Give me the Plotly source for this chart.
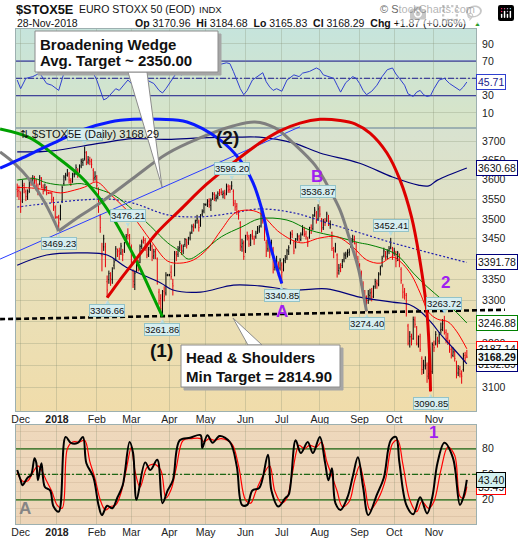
import base64
import numpy as np
import pandas as pd
import plotly.graph_objects as go

W, H = 520, 540
FONT = "Liberation Sans, Arial, sans-serif"

# ---- daily bars, 29-Nov-2017 .. 28-Nov-2018 (one per weekday) ----
dates = pd.bdate_range("2017-11-29", "2018-11-28")

bar_open = [
    3575, 3572, 3565, 3545, 3585, 3570, 3555, 3570, 3598, 3590,
    3606, 3598, 3578, 3590, 3603, 3580, 3575, 3580, 3566, 3566,
    3565, 3550, 3530, 3504, 3505, 3500, 3545, 3590, 3606, 3612,
    3615, 3598, 3596, 3615, 3618, 3625, 3625, 3636, 3645, 3655,
    3670, 3646, 3650, 3650, 3625, 3605, 3605, 3575, 3505, 3410,
    3430, 3430, 3345, 3350, 3360, 3350, 3385, 3398, 3418, 3420,
    3415, 3418, 3420, 3445, 3460, 3455, 3430, 3370, 3338, 3372,
    3385, 3392, 3432, 3448, 3446, 3428, 3412, 3428, 3432, 3408,
    3418, 3400, 3320, 3305, 3275, 3322, 3318, 3361, 3361, 3368,
    3340, 3360, 3412, 3412, 3428, 3432, 3420, 3436, 3444, 3440,
    3452, 3466, 3478, 3482, 3496, 3492, 3484, 3512, 3520, 3536,
    3540, 3545, 3534, 3552, 3562, 3552, 3556, 3566, 3568, 3562,
    3566, 3565, 3582, 3575, 3578, 3570, 3538, 3532, 3515, 3490,
    3430, 3440, 3420, 3458, 3452, 3440, 3462, 3450, 3455, 3468,
    3472, 3482, 3505, 3480, 3440, 3425, 3438, 3418, 3425, 3380,
    3392, 3388, 3378, 3385, 3375, 3396, 3405, 3418, 3440, 3462,
    3440, 3430, 3450, 3455, 3448, 3462, 3474, 3462, 3450, 3455,
    3478, 3475, 3510, 3515, 3500, 3520, 3498, 3478, 3492, 3496,
    3505, 3485, 3465, 3420, 3422, 3410, 3372, 3380, 3384, 3398,
    3408, 3414, 3416, 3430, 3446, 3448, 3438, 3400, 3385, 3368,
    3340, 3315, 3305, 3300, 3312, 3320, 3310, 3334, 3342, 3338,
    3365, 3384, 3408, 3414, 3406, 3420, 3428, 3425, 3414, 3415,
    3400, 3410, 3375, 3335, 3322, 3312, 3240, 3205, 3215, 3210,
    3254, 3235, 3198, 3215, 3165, 3145, 3148, 3150, 3130, 3160,
    3135, 3195, 3200, 3210, 3205, 3230, 3236, 3250, 3225, 3212,
    3200, 3186, 3172, 3180, 3155, 3132, 3140, 3128, 3140, 3172,
    3170.96,
]
bar_high = [
    3590, 3585, 3570, 3600, 3592, 3575, 3575, 3602, 3606, 3612,
    3610, 3602, 3590, 3612, 3607, 3588, 3590, 3584, 3569, 3569,
    3568, 3556, 3534, 3507, 3510, 3536, 3585, 3612, 3618, 3628,
    3620, 3604, 3618, 3624, 3640, 3630, 3640, 3655, 3656, 3687.22,
    3675, 3662, 3660, 3655, 3630, 3622, 3612, 3580, 3512, 3440,
    3460, 3440, 3360, 3372, 3368, 3380, 3400, 3432, 3426, 3428,
    3440, 3425, 3442, 3462, 3476.21, 3462, 3436, 3375, 3372, 3400,
    3398, 3436, 3448, 3456, 3452, 3436, 3430, 3446, 3436, 3425,
    3426, 3404, 3328, 3315, 3325, 3334, 3368, 3364, 3364, 3385,
    3352, 3420, 3420, 3432, 3445, 3436, 3436, 3452, 3450, 3455,
    3468, 3486, 3488, 3498, 3510, 3498, 3512, 3524, 3540, 3539,
    3550, 3552, 3552, 3568, 3568, 3562, 3570, 3576, 3578, 3572,
    3574, 3590, 3588, 3586, 3596.20, 3575, 3548, 3540, 3522, 3494,
    3450, 3446, 3460, 3468, 3460, 3462, 3472, 3458, 3470, 3482,
    3484, 3530, 3518, 3486, 3448, 3448, 3442, 3448, 3430, 3398,
    3408, 3394, 3402, 3392, 3402, 3410, 3425, 3434, 3468, 3472,
    3446, 3452, 3464, 3460, 3466, 3484, 3480, 3470, 3455, 3480,
    3486, 3512, 3530, 3520, 3536.87, 3532, 3502, 3500, 3502, 3518,
    3510, 3496, 3468, 3430, 3440, 3414, 3388, 3390, 3400, 3416,
    3418, 3424, 3426, 3452, 3460, 3458, 3442, 3408, 3390, 3372,
    3346, 3325, 3312, 3325, 3328, 3330, 3336, 3352, 3350, 3368,
    3384, 3408, 3428, 3420, 3424, 3432, 3452.41, 3430, 3428, 3420,
    3420, 3414, 3380, 3340, 3330, 3318, 3245, 3228, 3222, 3262,
    3262, 3240, 3218, 3222, 3170, 3162, 3170, 3156, 3172, 3165,
    3202, 3206, 3228, 3215, 3226, 3248, 3256, 3263.72, 3232, 3224,
    3208, 3192, 3190, 3184, 3160, 3150, 3148, 3138, 3178, 3180,
    3184.68,
]
bar_low = [
    3555, 3548, 3515, 3540, 3565, 3545, 3548, 3566, 3584, 3588,
    3588, 3572, 3560, 3586, 3578, 3562, 3570, 3560, 3563, 3563,
    3540, 3520, 3500, 3501, 3469.23, 3496, 3540, 3585, 3598, 3608,
    3590, 3584, 3592, 3606, 3612, 3605, 3618, 3630, 3636, 3650,
    3638, 3640, 3638, 3630, 3595, 3598, 3575, 3515, 3465, 3370,
    3420, 3380, 3306.66, 3340, 3335, 3340, 3375, 3395, 3405, 3398,
    3410, 3395, 3415, 3440, 3448, 3432, 3388, 3330, 3325, 3368,
    3370, 3390, 3425, 3438, 3420, 3402, 3405, 3420, 3395, 3400,
    3400, 3338, 3290, 3272, 3261.86, 3298, 3312, 3358, 3358, 3350,
    3312, 3358, 3395, 3405, 3420, 3410, 3412, 3430, 3426, 3435,
    3446, 3462, 3468, 3476, 3488, 3468, 3480, 3506, 3514, 3533,
    3530, 3528, 3520, 3548, 3545, 3544, 3550, 3558, 3560, 3552,
    3550, 3560, 3566, 3566, 3574, 3532, 3520, 3510, 3498, 3420,
    3418, 3398, 3415, 3446, 3430, 3432, 3448, 3435, 3450, 3462,
    3465, 3478, 3488, 3445, 3405, 3418, 3402, 3412, 3365, 3372,
    3378, 3358, 3372, 3340.85, 3370, 3390, 3398, 3410, 3436, 3452,
    3412, 3426, 3445, 3442, 3444, 3458, 3455, 3448, 3430, 3450,
    3462, 3472, 3505, 3488, 3495, 3504, 3466, 3472, 3482, 3492,
    3482, 3475, 3420, 3402, 3416, 3355, 3362, 3368, 3378, 3392,
    3400, 3404, 3408, 3428, 3440, 3436, 3398, 3384, 3365, 3335,
    3305, 3298, 3274.40, 3292, 3300, 3298, 3306, 3328, 3328, 3334,
    3360, 3380, 3404, 3398, 3400, 3412, 3424, 3398, 3408, 3380,
    3395, 3380, 3340, 3305, 3302, 3262, 3195, 3190, 3195, 3208,
    3236, 3195, 3190, 3180, 3128, 3130, 3140, 3110, 3118, 3090.85,
    3130, 3180, 3195, 3190, 3198, 3222, 3228, 3220, 3200, 3196,
    3178, 3165, 3168, 3158, 3120, 3125, 3122, 3108, 3135, 3158,
    3165.83,
]
bar_close = [
    3570, 3569, 3530, 3586, 3576, 3557, 3565, 3597, 3592, 3604,
    3595, 3580, 3573, 3605, 3584, 3570, 3580, 3566, 3566, 3566,
    3548, 3527, 3504, 3504, 3490, 3530, 3580, 3607, 3612, 3622,
    3599, 3594, 3613, 3615, 3632, 3620, 3634, 3648, 3650, 3672,
    3645, 3652, 3647, 3640, 3603, 3609, 3585, 3523, 3478, 3408,
    3450, 3385, 3325, 3365, 3352, 3370, 3393, 3425, 3418, 3412,
    3432, 3410, 3438, 3456, 3458, 3439, 3395, 3346, 3365, 3394,
    3384, 3431, 3442, 3445, 3426, 3410, 3424, 3440, 3405, 3418,
    3410, 3345, 3300, 3280, 3318, 3310, 3361, 3361, 3361, 3357,
    3335, 3415, 3408, 3425, 3438, 3418, 3431, 3448, 3434, 3450,
    3463, 3480, 3478, 3494, 3500, 3478, 3509, 3518, 3536, 3536,
    3543, 3536, 3547, 3563, 3553, 3554, 3564, 3565, 3567, 3565,
    3561, 3584, 3573, 3573, 3584, 3542, 3530, 3517, 3508, 3434,
    3439, 3406, 3453, 3456, 3437, 3457, 3456, 3448, 3464, 3476,
    3478, 3510, 3495, 3455, 3420, 3440, 3410, 3440, 3375, 3390,
    3395, 3370, 3396, 3368, 3395, 3402, 3420, 3428, 3462, 3460,
    3420, 3448, 3457, 3450, 3460, 3478, 3461, 3455, 3440, 3475,
    3470, 3508, 3522, 3495, 3525, 3512, 3475, 3494, 3490, 3512,
    3489, 3486, 3426, 3418, 3434, 3366, 3378, 3379, 3394, 3410,
    3412, 3414, 3419, 3444, 3448, 3447, 3403, 3393, 3374, 3345,
    3318, 3310, 3295, 3315, 3318, 3308, 3330, 3345, 3340, 3362,
    3378, 3402, 3420, 3405, 3418, 3425, 3440, 3408, 3420, 3395,
    3415, 3388, 3348, 3320, 3315, 3268, 3200, 3215, 3205, 3255,
    3244, 3200, 3210, 3186, 3140, 3150, 3160, 3125, 3165, 3120,
    3197, 3190, 3220, 3200, 3220, 3232, 3245, 3228, 3210, 3205,
    3185, 3175, 3180, 3165, 3135, 3142, 3130, 3125, 3170, 3166.42,
    3168.29,
]

# ---- overlays (bar index, value) ----
ma20_x = [0, 10, 17, 25, 33, 39, 46, 54, 67, 77, 87, 94, 102, 110, 118, 126, 133,
          140, 152, 164, 175, 185, 194, 202, 210, 217, 222, 228, 233, 238, 243, 249, 254, 260]
ma20 = [3580, 3578, 3573, 3566, 3573, 3581, 3594, 3562, 3505, 3447, 3395, 3390, 3398,
        3425, 3472, 3515, 3522, 3515, 3465, 3440, 3452, 3455, 3430, 3398, 3390, 3405,
        3392, 3361, 3318, 3272, 3256, 3250, 3228, 3187.14]
ma50_x = [0, 10, 17, 27, 37, 44, 56, 67, 77, 87, 93, 99, 107, 118, 130, 140, 156, 169,
          185, 198, 204, 219, 229, 237, 246, 254, 260]
ma50 = [3599, 3603, 3592, 3586, 3590, 3580, 3560, 3522, 3482, 3440, 3422, 3400, 3418,
        3455, 3480, 3500, 3497, 3472, 3455, 3440, 3435, 3412, 3366, 3333, 3301, 3272, 3246.88]
ma200_x = [0, 19, 38, 54, 67, 87, 106, 125, 140, 160, 179, 198, 217, 237, 260]
ma200 = [3530, 3540, 3548, 3550, 3540, 3510, 3505, 3515, 3525, 3515, 3490, 3465, 3440,
         3417, 3391.78]
bbu_x = [0, 19, 48, 67, 87, 106, 126, 140, 160, 175, 198, 217, 232, 238, 243, 260]
bb_upper = [3673, 3675, 3696, 3708, 3706, 3710, 3712, 3712, 3696, 3670, 3643, 3607,
            3586, 3584, 3599, 3630.68]
bbl_x = [0, 17, 37, 52, 63, 83, 90, 106, 125, 140, 160, 179, 198, 217, 227, 232, 239,
         246, 252, 260]
bb_lower = [3385, 3410, 3415, 3410, 3380, 3342, 3325, 3320, 3337, 3335, 3325, 3328,
            3308, 3296, 3290, 3278, 3250, 3215, 3189, 3152.89]

rsi_x = [0, 2, 5, 9, 13, 17, 20, 24, 27, 31, 35, 38, 41, 44, 46, 48, 50, 52, 54, 57,
         59, 62, 64, 67, 70, 73, 76, 79, 82, 84, 86, 88, 92, 95, 98, 104, 110, 114, 117,
         121, 123, 125, 127, 129, 131, 133, 136, 139, 142, 144, 146, 148, 150, 153, 156,
         160, 163, 165, 169, 173, 175, 177, 180, 183, 185, 187, 190, 194, 196, 198, 200,
         202, 205, 208, 211, 214, 217, 219, 221, 224, 226, 229, 231, 233, 235, 237, 239,
         241, 244, 247, 250, 253, 256, 258, 260]
rsi = [48, 38, 50, 52, 56, 44, 42, 36, 56, 62, 65, 67, 64, 56, 48, 36, 25, 27, 31, 38,
       36, 44, 48, 42, 48, 50, 47, 44, 36, 33, 38, 44, 56, 54, 58, 62, 63, 62, 66,
       68, 67, 58, 48, 38, 31, 36, 48, 52, 56.5, 46, 40, 36, 38, 35, 48,
       54, 52, 56, 58, 62, 60, 54, 52, 50, 42, 34, 45, 52, 50, 44, 36,
       31, 35, 42, 52, 60, 62, 55, 50, 42, 32, 29, 34, 36, 31, 29, 30,
       38, 48, 50, 44, 40, 36, 40, 45.71]

stk_x = [0, 2, 3, 6, 8, 10, 11, 12, 14, 16, 19, 21, 24, 28, 31, 35, 38, 40, 44, 47,
         49, 52, 55, 58, 61, 65, 67, 69, 74, 77, 81, 84, 87, 90, 94, 100, 106, 107, 110,
         113, 117, 123, 127, 130, 133, 136, 140, 145, 147, 151, 155, 157, 161, 164, 168,
         171, 175, 178, 180, 182, 184, 187, 191, 194, 197, 200, 203, 208, 212, 216, 219,
         221, 225, 229, 233, 237, 240, 243, 247, 252, 256, 258, 260]
stoch_k = [55, 43, 37, 46, 49, 69, 64, 43, 63, 35, 31, 12, 6, 94, 87, 87, 94, 63, 47, 14,
           2, 13, 10, 23, 37, 88, 75, 20, 64, 55, 67, 16, 31, 43, 90, 93, 96, 81, 96,
           87, 95, 88, 59, 14, 14, 31, 34, 73, 31, 12, 22, 26, 90, 75, 88,
           75, 94, 64, 43, 57, 16, 8, 23, 47, 70, 35, 2, 26, 46, 90, 94,
           64, 14, 3, 23, 4, 23, 63, 87, 69, 14, 23, 43.40]
std_x = [0, 3, 6, 9, 12, 14, 17, 20, 23, 26, 29, 32, 36, 39, 42, 45, 48, 51, 54, 57,
         60, 63, 66, 68, 71, 75, 79, 83, 86, 89, 92, 96, 101, 106, 108, 111, 114, 118,
         124, 128, 132, 135, 138, 142, 146, 149, 153, 156, 159, 163, 166, 169, 173, 176,
         179, 182, 185, 188, 192, 195, 198, 201, 204, 209, 213, 217, 220, 223, 227, 231,
         234, 238, 241, 245, 249, 253, 256, 258, 260]
stoch_d = [52, 42, 42, 52, 60, 55, 42, 30, 14, 10, 80, 88, 88, 90, 65, 45, 20, 8, 12, 14,
           28, 55, 82, 55, 35, 58, 62, 55, 22, 32, 58, 90, 92, 92, 88, 92, 90, 92,
           86, 60, 20, 16, 30, 48, 60, 30, 16, 22, 50, 84, 80, 84, 82, 88,
           65, 48, 30, 12, 18, 42, 60, 36, 8, 22, 44, 86, 90, 62, 20, 6,
           18, 10, 18, 55, 82, 72, 24, 22, 35.49]

# labelled swing points (bar index, H = high / L = low)
swing_bars = [24, 39, 52, 64, 84, 124, 153, 174, 202, 216, 239, 247]
swing_kind = ["L", "H", "L", "H", "L", "H", "L", "H", "L", "H", "L", "H"]

# hand-drawn arcs and lines (bar index, price)
arc_blue_x = [-9.9, 1.6, 19, 38, 53.7, 67, 82.6, 98.2, 117.3, 128.8, 136.4, 141.6, 146.2, 153]
arc_blue_y = [3630, 3654, 3692, 3732, 3753, 3760, 3760, 3753, 3705, 3652, 3592, 3522, 3435, 3340.85]
arc_green_x = [-9.9, 7.4, 23, 36.3, 46.1, 55.4, 63.5, 71, 77.9, 84]
arc_green_y = [3734, 3710, 3659, 3610, 3561, 3502, 3440, 3378, 3316, 3261.86]
arc_gray1_x = [-9.9, -1.9, 7.4, 16.1, 24]
arc_gray1_y = [3673, 3644, 3599, 3540, 3469.23]
arc_gray2_x = [24, 36.3, 47.9, 67, 86.6, 105.7, 124.8, 137.5, 149.1, 160.6, 172.2, 180.9,
               186.7, 192.4, 197.5, 200, 202]
arc_gray2_y = [3469.23, 3507, 3540, 3604, 3668, 3710, 3742, 3753, 3737, 3692, 3638, 3573,
               3522, 3447, 3373, 3318, 3274.4]
arc_red_x = [52, 59.4, 67, 80.8, 94.1, 109.7, 124.8, 140.4, 152, 163.5, 175.1, 186.7, 195.3,
             204, 213.8, 221.4, 228, 233, 236.8, 238.3, 239]
arc_red_y = [3306.66, 3349, 3390, 3465, 3522, 3589, 3644, 3697, 3729, 3750, 3760, 3757, 3748,
             3723, 3670, 3599, 3505, 3393, 3278, 3184, 3090.85]
wedge_x = [-9.9, 163.5]
wedge_y = [3400, 3740]
neck_x = [-9.9, 282]
neck_y = [3256, 3278]

price_ticks = list(range(3100, 3701, 50))


# ---- geometry (pixels of the 520x540 picture -> paper) ----
def fx(x):
    return x / W


def fy(y):
    return 1 - y / H


XD = [fx(16), fx(476)]
RSI_D = [fy(128), fy(29)]
MAIN_D = [fy(411), fy(128)]
STO_D = [fy(524), fy(425)]
XR = [-0.7, 265.3]
LOG_LO, LOG_HI = np.log10(3047.5), np.log10(3736.7)
bpp = (XR[1] - XR[0]) / 460.0
lpp = (LOG_HI - LOG_LO) / (411 - 128)
X4R = [XR[0] - 16 * bpp, XR[1] + 44 * bpp]
Y4R = [LOG_LO - (H - 411) * lpp, LOG_HI + 128 * lpp]

idx = list(range(len(dates)))
month_pos, month_txt = [], []
prev = None
for i, d in enumerate(dates):
    if d.month != prev:
        if i > 0:
            month_pos.append(i)
            month_txt.append("<b>2018</b>" if d.month == 1 else d.strftime("%b"))
        prev = d.month


def grad_uri(stops):
    st = "".join(f'<stop offset="{o}" stop-color="{c}"/>' for o, c in stops)
    svg = ('<svg xmlns="http://www.w3.org/2000/svg" width="4" height="100" '
           'viewBox="0 0 4 100" preserveAspectRatio="none"><defs>'
           f'<linearGradient id="g" x1="0" y1="0" x2="0" y2="1">{st}</linearGradient>'
           '</defs><rect width="4" height="100" fill="url(#g)"/></svg>')
    return "data:image/svg+xml;base64," + base64.b64encode(svg.encode()).decode()


def bg_image(dom, stops):
    return dict(source=grad_uri(stops), xref="paper", yref="paper", x=XD[0], y=dom[1],
                sizex=XD[1] - XD[0], sizey=dom[1] - dom[0], xanchor="left",
                yanchor="top", sizing="stretch", layer="below")


fig = go.Figure()

# main panel
def line(x, y, color, width=1.0, dash=None, xa="x", ya="y", shape="spline"):
    fig.add_trace(go.Scatter(x=x, y=y, mode="lines", xaxis=xa, yaxis=ya,
                             line=dict(color=color, width=width, dash=dash, shape=shape),
                             hoverinfo="skip"))


line(bbu_x, bb_upper, "#00007A", 1.2)
line(bbl_x, bb_lower, "#00007A", 1.2)
line(ma200_x, ma200, "#2020B0", 1.2, dash="2px,2px")
line(ma50_x, ma50, "#008000", 1.0)
line(ma20_x, ma20, "#FF0000", 1.0)

fig.add_trace(go.Ohlc(x=idx, open=bar_open, high=bar_high, low=bar_low, close=bar_close,
                      xaxis="x", yaxis="y", tickwidth=0.35, hoverinfo="skip",
                      increasing=dict(line=dict(color="#000000", width=1)),
                      decreasing=dict(line=dict(color="#E8000B", width=1))))

# RSI and stochastics
line(rsi_x, rsi, "#3040D0", 1.0, xa="x2", ya="y2", shape="linear")
line(std_x, stoch_d, "#FF0000", 1.2, xa="x3", ya="y3", shape="spline")
line(stk_x, stoch_k, "#000000", 2.0, xa="x3", ya="y3", shape="spline")

# drawn lines on a full-canvas copy of the price scale
line(wedge_x, wedge_y, "#2A3CFF", 1.0, xa="x4", ya="y4", shape="linear")
line(neck_x, neck_y, "#000000", 2.6, dash="5px,3px", xa="x4", ya="y4", shape="linear")
line(arc_gray1_x, arc_gray1_y, "#7F7F7F", 3, xa="x4", ya="y4")
line(arc_gray2_x, arc_gray2_y, "#7F7F7F", 3, xa="x4", ya="y4")
line(arc_green_x, arc_green_y, "#00A000", 3, xa="x4", ya="y4")
line(arc_blue_x, arc_blue_y, "#0A1AFF", 3, xa="x4", ya="y4")
line(arc_red_x, arc_red_y, "#DD0000", 3, xa="x4", ya="y4")

shapes = []
for lv, dash in [(70, None), (30, None), (50, "6px,2px,2px,2px")]:
    shapes.append(dict(type="line", xref="x2 domain", yref="y2", x0=0, x1=1, y0=lv, y1=lv,
                       line=dict(color="#2A2AA8", width=1.2, dash=dash), layer="below"))
for lv, dash in [(80, None), (20, None), (50, "6px,2px,2px,2px")]:
    shapes.append(dict(type="line", xref="x3 domain", yref="y3", x0=0, x1=1, y0=lv, y1=lv,
                       line=dict(color="#0A640A", width=1.3, dash=dash), layer="below"))


def rect(x0, y0, x1, y1, fill, color, width=1):
    return dict(type="rect", xref="paper", yref="paper", x0=fx(x0), x1=fx(x1),
                y0=fy(y1), y1=fy(y0), fillcolor=fill, line=dict(color=color, width=width),
                layer="above")


def tri(pts):
    path = "M " + " L ".join(f"{fx(x):.5f},{fy(y):.5f}" for x, y in pts) + " Z"
    return dict(type="path", xref="paper", yref="paper", path=path, fillcolor="white",
                line=dict(color="#8C8C8C", width=1), layer="above")


shapes += [
    rect(38, 34, 221, 75, "#A6A6A6", "#A6A6A6"),
    tri([(128, 72), (162, 187), (147, 72)]),
    rect(35, 31, 218, 72, "white", "#8C8C8C"),
    rect(184, 348, 343, 390, "#A6A6A6", "#A6A6A6"),
    tri([(248, 345), (233, 318), (262, 345)]),
    rect(181, 345, 340, 387, "white", "#8C8C8C"),
]

ann = []


def note(text, x, y, size=10.5, color="#111111", xanchor="left", bold=False):
    ann.append(dict(text=f"<b>{text}</b>" if bold else text, x=fx(x), y=fy(y),
                    xref="paper", yref="paper", showarrow=False, xanchor=xanchor,
                    yanchor="middle", font=dict(family=FONT, size=size, color=color)))


# header
note("$STOX5E", 14, 9, size=12.8, bold=True)
note("EURO STOXX 50 (EOD)", 77, 9, size=10.5)
note("INDX", 197, 9, size=9.5)
note("© StockCharts.com", 477, 9, size=11, color="#6A6A6A", xanchor="right")
note("28-Nov-2018", 15, 23, size=10.5)
note("<b>Op</b> 3170.96  <b>Hi</b> 3184.68  <b>Lo</b> 3165.83  <b>Cl</b> 3168.29  "
     "<b>Chg</b> +1.87 (+0.06%)", 468, 23, size=10.5, xanchor="right")
note("▲", 472, 23, size=7, color="#2E9E2E")

# swing-point price labels
for i, kind in zip(swing_bars, swing_kind):
    v = bar_low[i] if kind == "L" else bar_high[i]
    hidden = i == 39
    sgn = -1 if kind == "L" else 1
    ann.append(dict(text="▲" if kind == "L" else "▼", x=i, y=np.log10(v), xref="x",
                    yref="y", showarrow=False, yanchor="middle", yshift=sgn * 4,
                    font=dict(family=FONT, size=7, color="#B8DDE1")))
    ann.append(dict(text=f"{v:.2f}", x=i, y=np.log10(v), xref="x", yref="y",
                    showarrow=False, yanchor="top" if kind == "L" else "bottom",
                    yshift=sgn * 6, bgcolor="#D6EEF0", bordercolor="#93C3C8",
                    borderwidth=1, borderpad=0,
                    font=dict(family=FONT, size=9.5,
                              color="#D6EEF0" if hidden else "#111111")))

note("⇅ $STOX5E (Daily) 3168.29", 18, 134, size=11)

# callout texts and wave marks
note("Broadening Wedge", 38, 44, size=15, bold=True)
note("Avg. Target ~ 2350.00", 38, 61, size=15, bold=True)
note("Head & Shoulders", 184, 357, size=15, bold=True)
note("Min Target = 2814.90", 184, 376, size=15, bold=True)
note("(2)", 227.5, 137.5, size=19, xanchor="center", bold=True)
note("(1)", 161.5, 350, size=19, xanchor="center", bold=True)
for t, x, y in [("B", 316.5, 176), ("A", 281.5, 311), ("2", 445, 282), ("1", 433.5, 432)]:
    note(t, x, y, size=17, color="#A020F0", xanchor="center", bold=True)
note("A", 25, 508, size=17, color="#858585", xanchor="center", bold=True)


# last-value flags on the right axis
def flag(v, yref, yval, border, color="#111111", bold=False, bg="white"):
    txt = f"{v:.2f}"
    ann.append(dict(text=f"<b>{txt}</b>" if bold else txt, x=fx(476), xref="paper",
                    y=yval, yref=yref, xanchor="left", yanchor="middle", showarrow=False,
                    bgcolor=bg, bordercolor=border, borderwidth=1, borderpad=1,
                    font=dict(family=FONT, size=10.5, color=color)))


flag(bb_upper[-1], "y", np.log10(bb_upper[-1]), "#00007A")
flag(ma200[-1], "y", np.log10(ma200[-1]), "#00007A")
flag(ma50[-1], "y", np.log10(ma50[-1]), "#008000")
flag(bb_lower[-1], "y", np.log10(bb_lower[-1]), "#00007A")
flag(ma20[-1], "y", np.log10(ma20[-1]), "#FF0000")
flag(bar_close[-1], "y", np.log10(bar_close[-1]), "#000000", bold=True, bg="#F2FAFA")
flag(rsi[-1], "y2", rsi[-1], "#3040D0", color="#1A1A8A")
flag(stoch_d[-1], "y3", stoch_d[-1], "#FF0000")
flag(stoch_k[-1], "y3", stoch_k[-1], "#000000", bg="#D2F0F0")

GRID = "rgba(130,140,110,0.28)"
BORDER = "#9DB0B0"
TICKF = dict(family=FONT, size=10.5, color="#222222")
common_x = dict(domain=XD, range=XR, tickvals=month_pos, ticktext=month_txt, showgrid=True,
                gridcolor=GRID, zeroline=False, showline=True, linecolor=BORDER,
                mirror=True, ticks="", ticklabelstandoff=-2, tickfont=TICKF,
                fixedrange=True)
common_y = dict(side="right", showgrid=True, gridcolor=GRID, zeroline=False, showline=True,
                linecolor=BORDER, mirror=True, ticks="outside", ticklen=3,
                tickcolor="rgba(0,0,0,0)", tickfont=TICKF, fixedrange=True)

fig.update_layout(
    width=W, height=H,
    margin=dict(l=0, r=0, t=0, b=0, autoexpand=False),
    paper_bgcolor="white", plot_bgcolor="rgba(0,0,0,0)",
    showlegend=False,
    images=[
        bg_image(RSI_D, [(0, "#C6E4DC"), (1, "#D9E4C6")]),
        bg_image(MAIN_D, [(0, "#D8E2D0"), (0.5, "#E8E1BC"), (1, "#F0DCAA")]),
        bg_image(STO_D, [(0, "#EED8BC"), (1, "#EDD5B8")]),
    ],
    shapes=shapes,
    annotations=ann,
    xaxis=dict(common_x, anchor="y", rangeslider=dict(visible=False)),
    xaxis2=dict(common_x, anchor="y2", matches="x", showticklabels=False),
    xaxis3=dict(common_x, anchor="y3", matches="x"),
    xaxis4=dict(domain=[0, 1], range=X4R, visible=False, anchor="y4", fixedrange=True),
    yaxis=dict(common_y, domain=MAIN_D, type="log", range=[LOG_LO, LOG_HI], anchor="x",
               tickvals=price_ticks, ticktext=[str(v) for v in price_ticks]),
    yaxis2=dict(common_y, domain=RSI_D, range=[-7.6, 107.2], anchor="x2",
                tickvals=[10, 30, 50, 70, 90]),
    yaxis3=dict(common_y, domain=STO_D, range=[-8.5, 108], anchor="x3",
                tickvals=list(range(0, 101, 10)),
                ticktext=["" if v not in (20, 50, 80) else str(v) for v in range(0, 101, 10)],
                gridcolor="rgba(150,120,90,0.16)"),
    yaxis4=dict(domain=[0, 1], type="log", range=Y4R, visible=False, anchor="x4",
                fixedrange=True),
)

# the page body has a default 8px margin; drop it so the figure sits at the corner
fig.write_html("out.html", post_script="document.body.style.margin = '0px';")
